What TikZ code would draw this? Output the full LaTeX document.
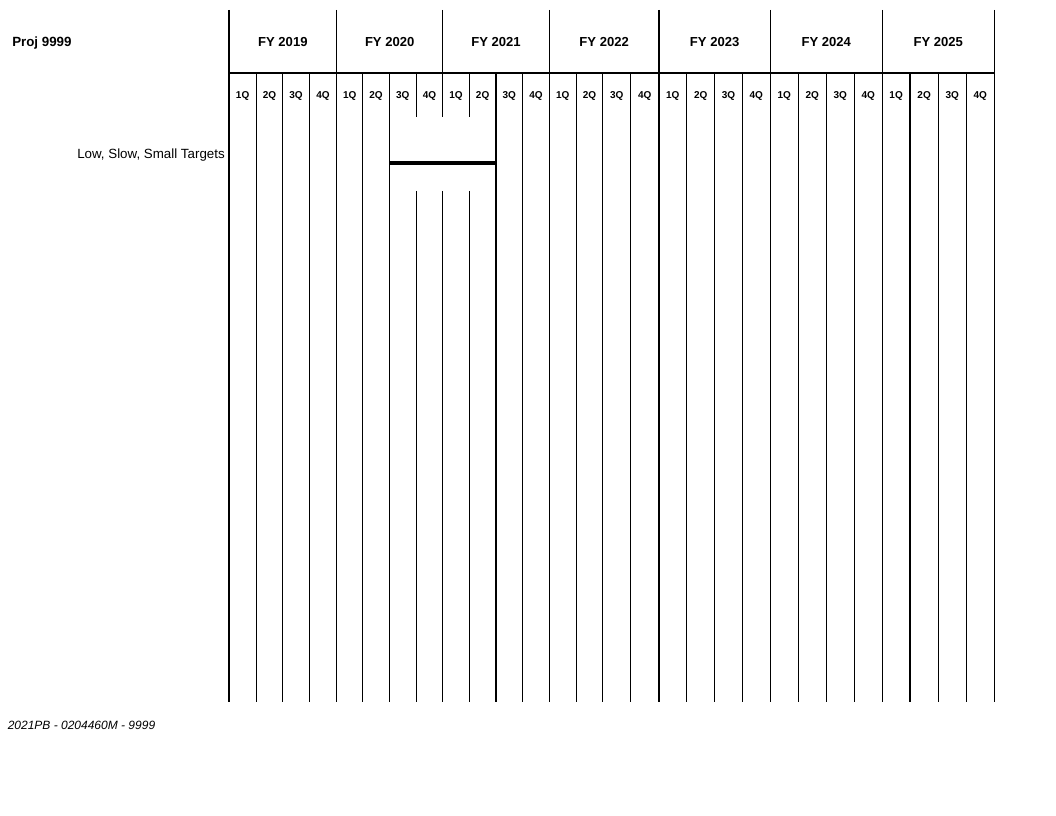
\documentclass[tikz,border=0pt]{standalone}
\usepackage{fontspec}
\setmainfont{Liberation Sans}
\usetikzlibrary{calc}
\begin{document}
\begin{tikzpicture}[x=0.75pt,y=-0.75pt,
  gridline/.style={line width=1pt,black},
  barline/.style={line width=3pt,black},
  yearlbl/.style={font=\fontsize{9.8}{11}\selectfont\bfseries,inner sep=0pt,anchor=base},
  qlbl/.style={font=\fontsize{7.5}{9}\selectfont\bfseries,inner sep=0pt,anchor=base},
  rowlbl/.style={font=\fontsize{10}{12}\selectfont,inner sep=0pt,anchor=base east},
  titlelbl/.style={font=\fontsize{10}{12}\selectfont\bfseries,inner sep=0pt,anchor=base west},
  footlbl/.style={font=\fontsize{9}{11}\selectfont\itshape,inner sep=0pt,anchor=base west}]
\useasboundingbox (0,0) rectangle (1056,816);
% x positions of all grid lines (index 0..28)
\def\xs{229,256.3,282.7,309.5,336.7,362.7,389.3,416.3,442.7,469.3,496,522.7,549.3,576.3,602.7,630.7,659,686.7,714.7,742.3,770.3,798.3,826.3,854.3,882.3,910,938.3,966.3,994.3}
\foreach \x [count=\i from 0] in \xs {
  \coordinate (g\i) at (\x,0);
}
% horizontal header line
\draw[gridline] (229,73) -- (994.3,73);
% year boundary lines (full height) and quarter lines
\foreach \i in {0,4,12,16,20,24,28} {
  \draw[gridline] (g\i |- 0,10) -- (g\i |- 0,702);
}
\foreach \i in {1,2,3,5,6,10,11,13,14,15,17,18,19,21,22,23,25,26,27} {
  \draw[gridline] (g\i |- 0,73) -- (g\i |- 0,702);
}
% lines with gap around the bar
\draw[gridline] (g8 |- 0,10) -- (g8 |- 0,117);
\draw[gridline] (g8 |- 0,191) -- (g8 |- 0,702);
\foreach \i in {7,9} {
  \draw[gridline] (g\i |- 0,73) -- (g\i |- 0,117);
  \draw[gridline] (g\i |- 0,191) -- (g\i |- 0,702);
}
% year labels
\foreach \a/\b/\y in {0/4/2019,4/8/2020,8/12/2021,12/16/2022,16/20/2023,20/24/2024,24/28/2025} {
  \node[yearlbl] (fy\y) at ($(g\a)!0.5!(g\b)+(0,46.5)$) {FY \y};
}
% quarter labels
\foreach \i in {0,...,27} {
  \pgfmathtruncatemacro{\j}{\i+1}
  \pgfmathtruncatemacro{\q}{mod(\i,4)+1}
  \node[qlbl] (q\i) at ($(g\i)!0.5!(g\j)+(0,99)$) {\q Q};
}
\node[titlelbl] (title) at (12,46.5) {Proj 9999};
\node[rowlbl] (row1) at (225,159) {Low, Slow, Small Targets};
\coordinate (bs) at (389.3,163.3);
\coordinate (be) at (496.3,163.3);
\draw[barline] (bs) -- (be);
\node[footlbl] (foot) at (7.5,729.5) {2021PB - 0204460M - 9999};
\end{tikzpicture}
\end{document}
